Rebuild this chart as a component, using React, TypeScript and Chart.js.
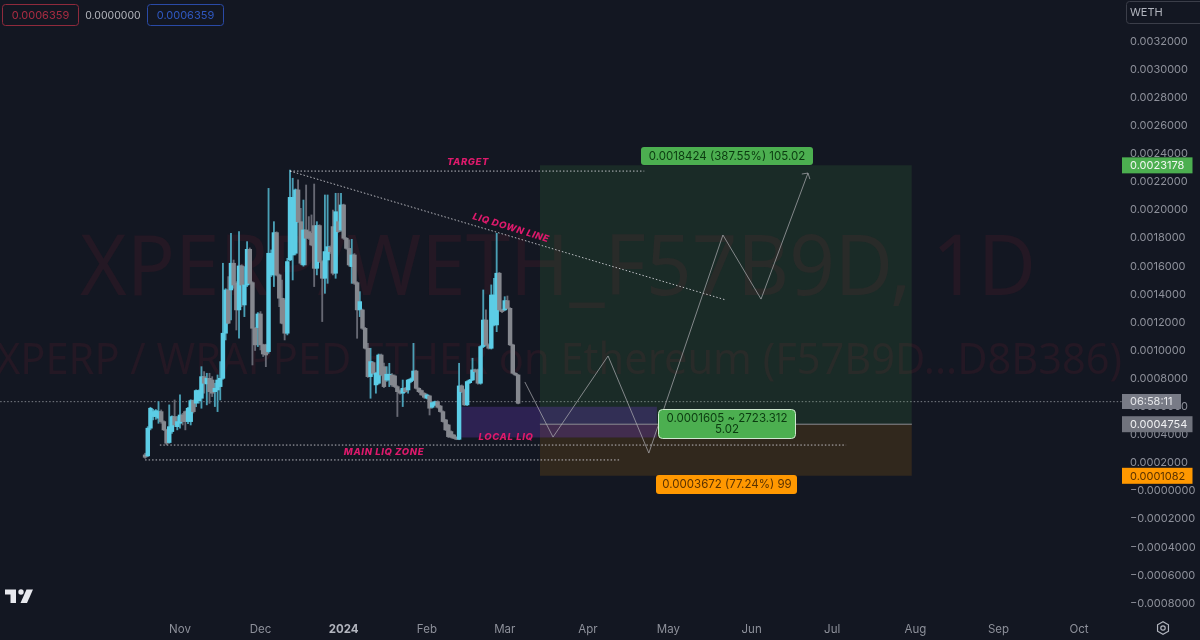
import React, { useEffect, useRef } from 'react';
import { Chart, registerables } from 'chart.js';

Chart.register(...registerables);

// candle values are in millionths of WETH, one candle per day from dayFirst
const MICRO = 0.000001;
const dayFirst = -13;

const opens = [257,250,447,530,530,518,565,494,435,345,423,530,458,482,541,565,494,494,643,625,643,660,814,762,802,790,707,719,743,802,1123,1431,1431,1621,1478,1289,1602,1324,1466,1720,1483,1158,1163,1260,1040,1040,992,1538,1538,1839,1538,1372,1360,1123,1644,1680,1692,2143,1917,1609,1858,1846,1834,1889,1585,1889,1633,1514,1644,1735,1882,1550,1917,1858,2036,1799,1727,1597,1680,1483,1289,1289,1158,1016,814,914,755,767,968,885,790,790,826,819,743,712,696,731,719,779,790,854,731,715,696,660,677,596,613,636,605,565,506,470,423,399,383,368,748,719,613,771,790,862,862,767,1028,1217,1040,1016,1182,1182,1550,1289,1289,1355,1300,1040,838,826];
const closes = [240,447,589,565,572,565,494,435,340,458,530,470,494,541,494,494,589,643,565,715,715,814,767,802,707,696,731,790,802,1123,1431,1194,1621,1466,1289,1602,1466,1466,1720,1478,1158,1040,1260,1040,975,968,1692,1692,1839,1538,1372,1194,1123,1633,2090,2090,2143,1917,1621,1858,1799,1799,1751,1585,1889,1633,1514,1704,1739,1704,1550,1988,1846,2036,1799,1727,1609,1680,1478,1289,1348,1158,1016,814,921,838,838,968,826,743,831,831,755,743,707,696,731,707,790,798,854,731,707,684,667,684,589,629,636,596,565,494,435,387,383,375,368,748,707,613,779,790,862,850,767,1028,1217,1040,1016,1395,1395,1550,1289,1277,1355,1300,1040,838,826,624];
const highs = [269,458,596,582,580,636,577,500,440,613,535,648,530,684,553,570,595,650,648,720,720,885,850,838,838,814,767,826,921,1621,1440,1526,1834,1644,1490,1846,1610,1597,1775,1730,1490,1165,1270,1277,1045,1045,2154,1716,1917,1845,1545,1502,1370,1656,2285,2226,2150,2214,2012,2071,2178,1953,1965,2185,1917,1895,1640,2107,2107,1745,2000,2119,2119,2119,2042,1805,1787,1791,1690,1490,1419,1295,1165,1051,1016,920,845,975,975,910,885,909,835,826,750,720,790,738,795,805,1051,860,735,720,700,690,682,635,640,642,610,570,510,475,428,403,386,909,755,725,785,795,945,868,868,1035,1431,1289,1048,1467,1514,1834,1556,1295,1383,1388,1305,1045,843,830];
const lows = [233,245,435,506,510,482,482,430,328,340,410,458,435,447,470,435,480,470,555,600,625,589,696,613,624,672,601,565,648,795,1075,1190,1217,1443,1146,1087,1312,1241,1455,1470,897,1000,1028,1004,957,885,980,1526,1455,1530,1312,1190,1075,1111,1640,1502,1680,1910,1610,1600,1609,1790,1745,1455,1538,1625,1206,1407,1478,1690,1538,1514,1840,1850,1790,1720,1600,1478,1470,1087,1241,1150,1010,808,660,830,696,760,820,735,780,743,745,735,530,690,601,700,696,770,785,725,700,680,660,655,541,590,608,590,560,490,430,380,378,372,365,365,700,608,608,765,785,845,760,760,1020,1035,1010,1010,1175,1134,1280,1270,1283,1295,1035,832,820,620];

// axis
const monthDays = [0, 30, 61, 92, 121, 152, 182, 213, 243, 274, 305, 335];
const monthLabels = ['Nov', 'Dec', '2024', 'Feb', 'Mar', 'Apr', 'May', 'Jun', 'Jul', 'Aug', 'Sep', 'Oct'];
const priceTicks = [0.0032, 0.003, 0.0028, 0.0026, 0.0024, 0.0022, 0.002, 0.0018, 0.0016, 0.0014, 0.0012, 0.001, 0.0008, 0.0006, 0.0004, 0.0002, 0, -0.0002, -0.0004, -0.0006, -0.0008];

// position tool
const targetPrice = 0.0023178;
const entryPrice = 0.0004754;
const stopPrice = 0.0001082;
const lastPrice = 0.0006359;
const toolDays = [134.1, 272.7];

// purple local liquidity zone
const zoneDays = [104.3, 177.7];
const zoneTop = 0.0006;
const zoneBottom = 0.00038;

// drawn lines
const targetLineDays = [41, 173];
const targetLinePrice = 0.002277;
const upperLiqDays = [-7.5, 248.2];
const upperLiqPrice = 0.000327;
const mainLiqDays = [-13, 164.3];
const mainLiqPrice = 0.000221;
const downLineDays = [41, 203.5];
const downLinePrices = [0.002277, 0.001359];
const pathDays = [128.5, 139, 159.5, 174.7, 202.3, 216.5, 234];
const pathPrices = [0.000776, 0.000384, 0.000961, 0.00027, 0.001822, 0.001366, 0.002263];
const arrowDays = [231.7, 234, 234.7];
const arrowPrices = [0.002256, 0.002263, 0.00222];
const lastLineDays = [-67, 351];

const BG = '#131722';
const BLUE = '#5ccde6';
const GREY = '#85888f';
const BLUE_WICK = '#4a9fb5';
const GREY_WICK = '#666873';
const PINK = '#de1a6c';
const DOTS = 'rgba(225,225,230,0.8)';
const AXIS_FONT = '11px Inter';

const candleDays = opens.map((_, i) => dayFirst + i);
const isUp = (i: number) => closes[i] >= opens[i];

function pts(days: number[], prices: number[]) {
  return days.map((x, i) => ({ x, y: prices[i] }));
}

function flat(days: number[], price: number) {
  return days.map((x) => ({ x, y: price }));
}

function pill(ctx: any, x: number, y: number, w: number, h: number, r: number, fill: string | null, stroke: string | null) {
  ctx.beginPath();
  ctx.roundRect(x, y, w, h, r);
  if (fill) {
    ctx.fillStyle = fill;
    ctx.fill();
  }
  if (stroke) {
    ctx.strokeStyle = stroke;
    ctx.lineWidth = 1;
    ctx.stroke();
  }
}

function label(ctx: any, text: string, x: number, y: number, color: string, font = '11.5px Inter', align = 'center') {
  ctx.font = font;
  ctx.fillStyle = color;
  ctx.textAlign = align;
  ctx.textBaseline = 'middle';
  ctx.fillText(text, x, y);
}

function pinkText(ctx: any, text: string, x: number, y: number, angle = 0) {
  ctx.save();
  ctx.translate(x, y);
  ctx.rotate(angle);
  ctx.letterSpacing = '0.6px';
  label(ctx, text, 0, 0, PINK, 'italic 800 9.5px Inter');
  ctx.restore();
}

const watermark = {
  id: 'watermark',
  beforeDatasetsDraw(chart: any) {
    const ctx = chart.ctx;
    ctx.save();
    ctx.fillStyle = '#241824';
    ctx.textAlign = 'left';
    ctx.textBaseline = 'alphabetic';
    ctx.font = '84px "Noto Sans"';
    ctx.fillText('XPERP/WETH_F57B9D, 1D', 80, 295, 956);
    ctx.font = '44px "Noto Sans"';
    ctx.fillText('XPERP / WRAPPED ETHER on Ethereum (F57B9D...D8B386)', -4, 374, 1126);
    ctx.restore();
  },
};

const overlay = {
  id: 'overlay',
  afterDraw(chart: any) {
    const ctx = chart.ctx;
    const yScale = chart.scales.y;
    ctx.save();

    // drawing labels
    pinkText(ctx, 'TARGET', 468, 162);
    pinkText(ctx, 'LIQ DOWN LINE', 511, 228, 0.3);
    pinkText(ctx, 'LOCAL LIQ', 506, 437);
    pinkText(ctx, 'MAIN LIQ ZONE', 384, 452);

    // position tool labels
    pill(ctx, 641, 147, 172, 18, 3, '#4caf50', null);
    label(ctx, '0.0018424 (387.55%) 105.02', 727, 156.5, '#0b3b10');
    pill(ctx, 658.5, 409.5, 137, 29, 4, '#4caf50', '#cfe8d0');
    label(ctx, '0.0001605 ~ 2723.312', 727, 419, '#0b3b10');
    label(ctx, '5.02', 727, 430, '#0b3b10');
    pill(ctx, 656, 475, 141, 19, 3, '#ff9800', null);
    label(ctx, '0.0003672 (77.24%) 99', 727, 485, '#5a3200');

    // price axis tags
    const tag = (price: number, text: string, fill: string, color: string) => {
      const py = yScale.getPixelForValue(price);
      ctx.fillStyle = fill;
      ctx.fillRect(1122, py - 8, 70.5, 16);
      label(ctx, text, 1130, py + 0.5, color, AXIS_FONT, 'left');
    };
    tag(targetPrice, '0.0023178', '#4caf50', '#f2f7f2');
    tag(entryPrice, '0.0004754', '#70737d', '#f0f1f3');
    tag(stopPrice, '0.0001082', '#ff9800', '#5a3200');
    ctx.fillStyle = '#787b86';
    ctx.fillRect(1122, 394, 59, 15);
    label(ctx, '06:58:11', 1130, 402, '#e6e7ea', AXIS_FONT, 'left');

    // currency box
    pill(ctx, 1126.5, 1.5, 80, 22, 3, BG, '#3b3e49');
    label(ctx, 'WETH', 1130, 13, '#b2b5be', AXIS_FONT, 'left');

    // legend values
    pill(ctx, 2.5, 4.5, 76, 21, 3, null, '#8f2a3c');
    label(ctx, '0.0006359', 40.5, 15.5, '#a82c42', AXIS_FONT);
    label(ctx, '0.0000000', 113, 15.5, '#b4b6bd', '10.5px Inter');
    pill(ctx, 147.5, 4.5, 76, 21, 3, null, '#2a4aa6');
    label(ctx, '0.0006359', 185.5, 15.5, '#2f58c0', AXIS_FONT);

    // logo
    ctx.fillStyle = '#e8e9ee';
    ctx.beginPath();
    ctx.moveTo(5, 589.5);
    ctx.lineTo(16, 589.5);
    ctx.lineTo(16, 603);
    ctx.lineTo(10.5, 603);
    ctx.lineTo(10.5, 594.5);
    ctx.lineTo(5, 594.5);
    ctx.closePath();
    ctx.fill();
    ctx.beginPath();
    ctx.arc(21, 592, 2.7, 0, Math.PI * 2);
    ctx.fill();
    ctx.beginPath();
    ctx.moveTo(26.5, 589.5);
    ctx.lineTo(33, 589.5);
    ctx.lineTo(27, 603);
    ctx.lineTo(20.5, 603);
    ctx.closePath();
    ctx.fill();

    // settings icon
    ctx.strokeStyle = '#b2b5be';
    ctx.lineWidth = 1.2;
    ctx.beginPath();
    for (let i = 0; i < 6; i++) {
      const a = Math.PI / 6 + (i * Math.PI) / 3;
      const px = 1163 + 6.3 * Math.cos(a);
      const py = 628 + 6.3 * Math.sin(a);
      if (i === 0) ctx.moveTo(px, py);
      else ctx.lineTo(px, py);
    }
    ctx.closePath();
    ctx.stroke();
    ctx.beginPath();
    ctx.arc(1163, 628, 2.2, 0, Math.PI * 2);
    ctx.stroke();

    ctx.restore();
  },
};

export default function App() {
  const canvasRef = useRef<HTMLCanvasElement>(null);

  useEffect(() => {
    if (!canvasRef.current) return;

    const dotted = (data: any[], color = DOTS) => ({
      type: 'line' as const,
      data,
      borderColor: color,
      borderWidth: 1,
      borderDash: [1.5, 2],
      pointRadius: 0,
      fill: false,
    });
    const solid = (data: any[], color: string, width = 1) => ({
      type: 'line' as const,
      data,
      borderColor: color,
      borderWidth: width,
      pointRadius: 0,
      fill: false,
    });
    const box = (days: number[], top: number, bottom: number, color: string) => ({
      type: 'line' as const,
      data: flat(days, top),
      borderWidth: 0,
      pointRadius: 0,
      backgroundColor: color,
      fill: { value: bottom },
    });

    const chart = new Chart(canvasRef.current, {
      type: 'bar',
      data: {
        datasets: [
          solid(pts(pathDays, pathPrices), 'rgba(175,175,180,0.7)'),
          solid(pts(arrowDays, arrowPrices), 'rgba(175,175,180,0.7)'),
          dotted(flat(targetLineDays, targetLinePrice)),
          dotted(pts(downLineDays, downLinePrices)),
          dotted(flat(upperLiqDays, upperLiqPrice)),
          dotted(flat(mainLiqDays, mainLiqPrice)),
          solid(flat(toolDays, entryPrice), '#8d8c92'),
          {
            type: 'bar',
            data: candleDays.map((x, i) => ({ x, y: [opens[i] * MICRO, closes[i] * MICRO] })),
            backgroundColor: candleDays.map((_, i) => (isUp(i) ? BLUE : GREY)),
            barThickness: 3.8,
            minBarLength: 1.5,
            grouped: false,
          },
          {
            type: 'bar',
            data: candleDays.map((x, i) => ({ x, y: [lows[i] * MICRO, highs[i] * MICRO] })),
            backgroundColor: candleDays.map((_, i) => (isUp(i) ? BLUE_WICK : GREY_WICK)),
            barThickness: 1.2,
            grouped: false,
          },
          box(zoneDays, zoneTop, zoneBottom, 'rgba(103,58,183,0.32)'),
          box(toolDays, targetPrice, entryPrice, 'rgba(76,175,80,0.13)'),
          box(toolDays, entryPrice, stopPrice, 'rgba(255,152,0,0.13)'),
          dotted(flat(lastLineDays, lastPrice), 'rgba(170,172,180,0.7)'),
        ] as any,
      },
      options: {
        responsive: false,
        animation: false,
        events: [],
        layout: { padding: 0 },
        plugins: { legend: { display: false }, tooltip: { enabled: false } },
        scales: {
          x: {
            type: 'linear',
            min: -67.06,
            max: 351,
            offset: false,
            grid: { display: false, drawTicks: false },
            border: { display: false },
            afterBuildTicks: (axis: any) => {
              axis.ticks = monthDays.map((value) => ({ value }));
            },
            afterFit: (axis: any) => {
              axis.height = 20;
              axis.paddingLeft = 0;
              axis.paddingRight = 0;
            },
            ticks: {
              autoSkip: false,
              maxRotation: 0,
              padding: 3,
              callback: (value: any) => monthLabels[monthDays.indexOf(value)],
              color: (c: any) => (c.tick.value === 61 ? '#b2b5be' : '#8d909a'),
              font: (c: any) =>
                c.tick && c.tick.value === 61
                  ? { family: 'Inter', size: 11.5, weight: 'bold' }
                  : { family: 'Inter', size: 11.5 },
            },
          },
          y: {
            type: 'linear',
            position: 'right',
            min: -0.00091815,
            max: 0.0034947,
            grid: { display: false, drawTicks: false },
            border: { display: false },
            afterBuildTicks: (axis: any) => {
              axis.ticks = priceTicks.map((value) => ({ value }));
            },
            afterFit: (axis: any) => {
              axis.width = 78;
              axis.paddingTop = 0;
              axis.paddingBottom = 0;
            },
            ticks: {
              autoSkip: false,
              padding: 8,
              color: '#8d909a',
              font: { family: 'Inter', size: 11 },
              callback: (value: any) =>
                value <= 0 ? '\u2212' + Math.abs(value).toFixed(7) : Number(value).toFixed(7),
            },
          },
        },
      },
      plugins: [watermark, overlay],
    } as any);

    return () => {
      chart.destroy();
    };
  }, []);

  return (
    <div style={{ position: 'fixed', left: 0, top: 0, width: 1200, height: 640, background: BG }}>
      <canvas ref={canvasRef} width={1200} height={640} style={{ display: 'block' }} />
    </div>
  );
}
